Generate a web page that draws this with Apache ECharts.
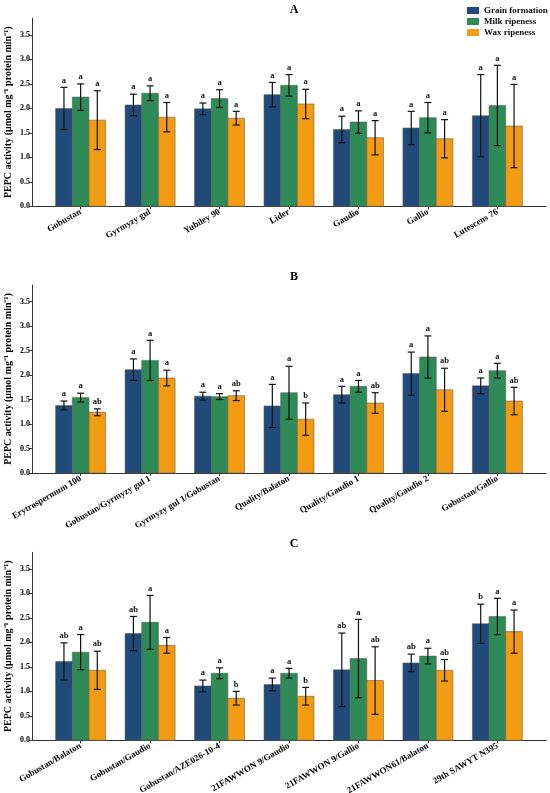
<!DOCTYPE html>
<html>
<head>
<meta charset="utf-8">
<script src="https://cdn.jsdelivr.net/npm/echarts@6/dist/echarts.min.js"></script>
<style>
  html, body { margin: 0; padding: 0; background: #fff; }
  #echarts { width: 550px; height: 793px; }
</style>
</head>
<body>
<div id="echarts"></div>
<script>
// panel A - varieties
const catsA = ['Gobustan', 'Gyrmyzy gul', 'Yubiley 90', 'Lider', 'Gaudio', 'Gallio', 'Lutescens 76'];
const gfA = [2.00, 2.07, 1.99, 2.28, 1.57, 1.60, 1.85];
const gfSdA = [0.43, 0.22, 0.12, 0.25, 0.27, 0.34, 0.84];
const mrA = [2.23, 2.31, 2.20, 2.47, 1.72, 1.81, 2.06];
const mrSdA = [0.27, 0.15, 0.18, 0.22, 0.23, 0.31, 0.82];
const wrA = [1.76, 1.82, 1.80, 2.09, 1.40, 1.38, 1.64];
const wrSdA = [0.60, 0.30, 0.14, 0.30, 0.35, 0.39, 0.85];
const gfLetA = ['a', 'a', 'a', 'a', 'a', 'a', 'a'];
const mrLetA = ['a', 'a', 'a', 'a', 'a', 'a', 'a'];
const wrLetA = ['a', 'a', 'a', 'a', 'a', 'a', 'a'];

// panel B
const catsB = ['Erytrospermum 100', 'Gobustan/Gyrmyzy gul 1', 'Gyrmyzy gul 1/Gobustan', 'Quality/Balaton',
  'Quality/Gaudio 1', 'Quality/Gaudio 2', 'Gobustan/Gallio'];
const gfB = [1.38, 2.11, 1.57, 1.37, 1.60, 2.03, 1.78];
const gfSdB = [0.09, 0.22, 0.08, 0.44, 0.17, 0.44, 0.16];
const mrB = [1.54, 2.30, 1.56, 1.64, 1.77, 2.37, 2.09];
const mrSdB = [0.09, 0.41, 0.06, 0.54, 0.12, 0.43, 0.15];
const wrB = [1.24, 1.94, 1.58, 1.10, 1.43, 1.70, 1.47];
const wrSdB = [0.07, 0.16, 0.10, 0.33, 0.21, 0.44, 0.28];
const gfLetB = ['a', 'a', 'a', 'a', 'a', 'a', 'a'];
const mrLetB = ['a', 'a', 'a', 'a', 'a', 'a', 'a'];
const wrLetB = ['ab', 'a', 'ab', 'b', 'ab', 'ab', 'ab'];

// panel C
const catsC = ['Gobustan/Balaton', 'Gobustan/Gaudio', 'Gobustan/AZE026-10-4', '21FAWWON 9/Gaudio',
  '21FAWWON 9/Gallio', '21FAWWON61/Balaton', '29th SAWYT N395'];
const gfC = [1.61, 2.18, 1.11, 1.14, 1.44, 1.58, 2.38];
const gfSdC = [0.38, 0.35, 0.12, 0.13, 0.75, 0.18, 0.40];
const mrC = [1.80, 2.41, 1.37, 1.37, 1.67, 1.72, 2.53];
const mrSdC = [0.36, 0.55, 0.11, 0.10, 0.80, 0.16, 0.37];
const wrC = [1.43, 1.94, 0.86, 0.90, 1.22, 1.43, 2.22];
const wrSdC = [0.39, 0.16, 0.14, 0.18, 0.69, 0.22, 0.44];
const gfLetC = ['ab', 'ab', 'a', 'a', 'ab', 'ab', 'b'];
const mrLetC = ['a', 'a', 'a', 'a', 'a', 'a', 'a'];
const wrLetC = ['ab', 'a', 'b', 'b', 'ab', 'ab', 'a'];

const stages = ['Grain formation', 'Milk ripeness', 'Wax ripeness'];
const yTicks = [0, 0.5, 1, 1.5, 2, 2.5, 3, 3.5];
const xTicks = [0, 1, 2, 3, 4, 5, 6];

const colors = ['#1f4a7a', '#2e8b57', '#f39c12'];
const FONT = 'Liberation Serif';
const BAR_W = 0.24;

const panels = [
  { title: 'A', cats: catsA, top: 18.3, vals: [gfA, mrA, wrA], sds: [gfSdA, mrSdA, wrSdA], lets: [gfLetA, mrLetA, wrLetA] },
  { title: 'B', cats: catsB, top: 285, vals: [gfB, mrB, wrB], sds: [gfSdB, mrSdB, wrSdB], lets: [gfLetB, mrLetB, wrLetB] },
  { title: 'C', cats: catsC, top: 552.3, vals: [gfC, mrC, wrC], sds: [gfSdC, mrSdC, wrSdC], lets: [gfLetC, mrLetC, wrLetC] }
];

function makeRender(stage, letters) {
  return function (params, api) {
    const cat = api.value(0), v = api.value(1), sd = api.value(2);
    const cx = cat + (stage - 1) * BAR_W;
    const base = api.coord([cx - BAR_W / 2, 0]);
    const tip = api.coord([cx + BAR_W / 2, v]);
    const top = api.coord([cx, v + sd]);
    const bot = api.coord([cx, v - sd]);
    const cap = 3.5;
    const errStyle = { stroke: '#111', lineWidth: 1.2 };
    return {
      type: 'group',
      children: [
        { type: 'rect', shape: { x: base[0], y: tip[1], width: tip[0] - base[0], height: base[1] - tip[1] },
          style: { fill: colors[stage], stroke: 'rgba(90,90,90,0.7)', lineWidth: 0.8 } },
        { type: 'line', shape: { x1: top[0], y1: top[1], x2: bot[0], y2: bot[1] }, style: errStyle },
        { type: 'line', shape: { x1: top[0] - cap, y1: top[1], x2: top[0] + cap, y2: top[1] }, style: errStyle },
        { type: 'line', shape: { x1: bot[0] - cap, y1: bot[1], x2: bot[0] + cap, y2: bot[1] }, style: errStyle },
        { type: 'text', x: top[0], y: top[1] - 2.5,
          style: { text: letters[params.dataIndex], fill: '#111', font: 'bold 8.5px "' + FONT + '"',
            textAlign: 'center', textVerticalAlign: 'bottom' } }
      ]
    };
  };
}

const grids = [], xAxes = [], yAxes = [], series = [], titles = [];
panels.forEach(function (p, i) {
  grids.push({ left: 32, right: 4, top: p.top, height: 188, outerBoundsMode: 'none', containLabel: false });
  titles.push({ text: p.title, left: 289, top: p.top - 19, textAlign: 'center',
    textStyle: { fontFamily: FONT, fontWeight: 'bold', fontSize: 12, color: '#000' } });
  xAxes.push({
    type: 'value', gridIndex: i, min: -0.7, max: 6.7,
    splitLine: { show: false },
    axisLine: { show: true, onZero: false, lineStyle: { color: '#333', width: 1 } },
    axisTick: { show: true, customValues: xTicks, length: 3, lineStyle: { color: '#333' } },
    axisLabel: {
      customValues: xTicks, rotate: 30, margin: 5,
      fontFamily: FONT, fontWeight: 'bold', fontSize: 9, color: '#000',
      formatter: function (v) { return p.cats[Math.round(v)]; }
    }
  });
  yAxes.push({
    type: 'value', gridIndex: i, min: 0, max: 3.84,
    name: 'PEPC activity (\u03bcmol mg\u207b\u00b9 protein min\u207b\u00b9)',
    nameLocation: 'middle', nameGap: 19, nameMoveOverlap: false,
    nameTextStyle: { fontFamily: FONT, fontWeight: 'bold', fontSize: 10, color: '#000' },
    splitLine: { show: false },
    axisLine: { show: true, onZero: false, lineStyle: { color: '#333', width: 1 } },
    axisTick: { show: true, customValues: yTicks, length: 3, lineStyle: { color: '#333' } },
    axisLabel: {
      customValues: yTicks, margin: 2,
      fontFamily: FONT, fontWeight: 'bold', fontSize: 8, color: '#000',
      formatter: function (v) { return v.toFixed(1); }
    }
  });
  stages.forEach(function (name, s) {
    series.push({
      name: name, type: 'custom', xAxisIndex: i, yAxisIndex: i,
      itemStyle: { color: colors[s] },
      renderItem: makeRender(s, p.lets[s]),
      encode: { x: 0, y: 1 },
      data: p.vals[s].map(function (v, k) { return [k, v, p.sds[s][k]]; })
    });
  });
});

const chart = echarts.init(document.getElementById('echarts'));
chart.setOption({
  animation: false,
  title: titles,
  legend: {
    data: stages.map(function (n) { return { name: n, icon: 'rect' }; }),
    orient: 'vertical', left: 462, top: 1,
    itemWidth: 12, itemHeight: 7, itemGap: 2,
    textStyle: { fontFamily: FONT, fontWeight: 'bold', fontSize: 9, color: '#111' }
  },
  grid: grids,
  xAxis: xAxes,
  yAxis: yAxes,
  series: series
});
</script>
</body>
</html>
